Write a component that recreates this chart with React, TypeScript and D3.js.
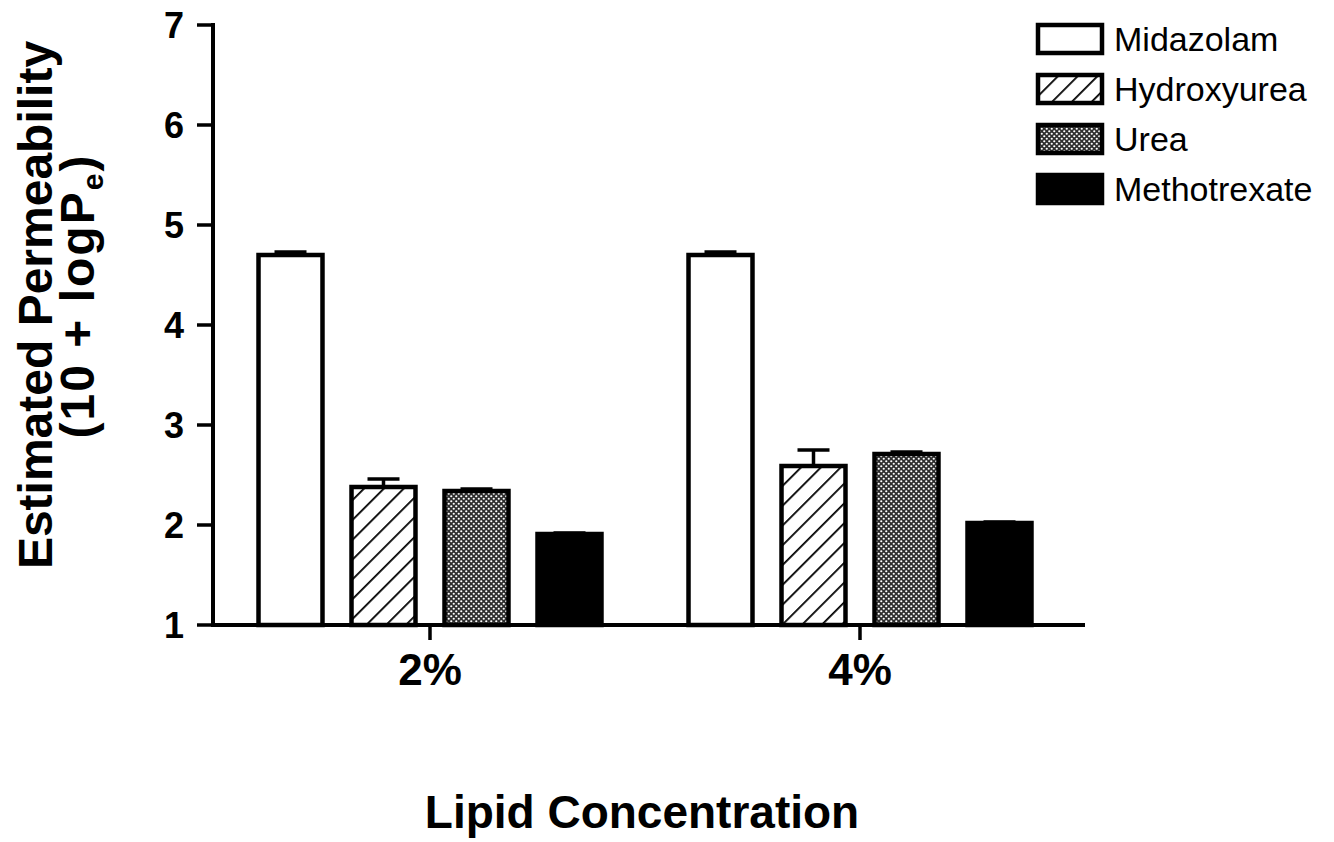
import React from "react";
import * as d3 from "d3";

const groups = ["2%", "4%"];
const series = ["Midazolam", "Hydroxyurea", "Urea", "Methotrexate"];
const values2 = [4.70, 2.38, 2.34, 1.91];
const values4 = [4.70, 2.59, 2.71, 2.02];
const errors2 = [0.03, 0.08, 0.02, 0.01];
const errors4 = [0.03, 0.16, 0.02, 0.01];
const yTicks = [1, 2, 3, 4, 5, 6, 7];

const W = 1334;
const H = 842;
const FONT = "'Liberation Sans', Arial, Helvetica, sans-serif";

const fills = ["#ffffff", "url(#hatch)", "url(#dots)", "#000000"];

export default function App() {
  const y = d3.scaleLinear().domain([1, 7]).range([625, 25]);
  const x = d3.scaleBand().domain(groups).range([215, 1075]);
  const inner = d3
    .scaleBand()
    .domain(series)
    .range([-186, 186])
    .paddingInner(0.312)
    .paddingOuter(0.156);

  const data = groups.map((g, gi) => ({
    g,
    vals: gi === 0 ? values2 : values4,
    errs: gi === 0 ? errors2 : errors4,
  }));

  const axisX0 = 213;
  const axisX1 = 1085;
  const y0 = y(1);

  return (
    <div style={{ position: "absolute", left: 0, top: 0 }}>
      <svg width={W} height={H} style={{ display: "block", background: "#fff" }}>
        <defs>
          <pattern id="hatch" patternUnits="userSpaceOnUse" width="14" height="14" patternTransform="rotate(45)">
            <rect width="14" height="14" fill="#fff" />
            <line x1="0" y1="0" x2="0" y2="14" stroke="#000" strokeWidth="3.6" />
          </pattern>
          <pattern id="dots" patternUnits="userSpaceOnUse" width="5" height="5">
            <rect width="5" height="5" fill="#2e2e2e" />
            <circle cx="1.25" cy="1.25" r="1.1" fill="#fff" />
            <circle cx="3.75" cy="3.75" r="1.1" fill="#fff" />
          </pattern>
        </defs>

        {/* bars */}
        {data.map((d) => {
          const cx = (x(d.g) as number) + x.bandwidth() / 2;
          return (
            <g key={d.g}>
              {series.map((s, i) => {
                const bx = cx + (inner(s) as number);
                const bw = inner.bandwidth();
                const top = y(d.vals[i]);
                const errTop = y(d.vals[i] + d.errs[i]);
                const mid = bx + bw / 2;
                return (
                  <g key={s}>
                    <line x1={mid} x2={mid} y1={top} y2={errTop} stroke="#000" strokeWidth={3.5} />
                    <line x1={mid - 16} x2={mid + 16} y1={errTop} y2={errTop} stroke="#000" strokeWidth={3.5} />
                    <rect
                      x={bx}
                      y={top}
                      width={bw}
                      height={y0 - top}
                      fill={fills[i]}
                      stroke="#000"
                      strokeWidth={4.5}
                    />
                  </g>
                );
              })}
            </g>
          );
        })}

        {/* y axis */}
        <line x1={axisX0} x2={axisX0} y1={y(7) - 2} y2={y0 + 2} stroke="#000" strokeWidth={4} />
        {yTicks.map((t) => (
          <g key={t}>
            <line x1={axisX0 - 16} x2={axisX0} y1={y(t)} y2={y(t)} stroke="#000" strokeWidth={3.5} />
            <text
              x={184}
              y={y(t)}
              textAnchor="end"
              dominantBaseline="central"
              fontFamily={FONT}
              fontWeight="bold"
              fontSize={36}
              fill="#000"
            >
              {t}
            </text>
          </g>
        ))}

        {/* x axis */}
        <line x1={axisX0 - 2} x2={axisX1} y1={y0} y2={y0} stroke="#000" strokeWidth={4} />
        {groups.map((g) => {
          const cx = (x(g) as number) + x.bandwidth() / 2;
          return (
            <g key={g}>
              <line x1={cx} x2={cx} y1={y0} y2={y0 + 15} stroke="#000" strokeWidth={3.5} />
              <text
                x={cx}
                y={685}
                textAnchor="middle"
                fontFamily={FONT}
                fontWeight="bold"
                fontSize={44}
                fill="#000"
              >
                {g}
              </text>
            </g>
          );
        })}

        {/* axis titles */}
        <text
          x={642}
          y={828}
          textAnchor="middle"
          fontFamily={FONT}
          fontWeight="bold"
          fontSize={46}
          fill="#000"
        >
          Lipid Concentration
        </text>
        <text
          transform={`translate(52, 305) rotate(-90)`}
          textAnchor="middle"
          fontFamily={FONT}
          fontWeight="bold"
          fontSize={48}
          fill="#000"
        >
          Estimated Permeability
        </text>
        <text
          transform={`translate(94, 296) rotate(-90)`}
          textAnchor="middle"
          fontFamily={FONT}
          fontWeight="bold"
          fontSize={48}
          letterSpacing={2}
          fill="#000"
        >
          (10 + logP
          <tspan fontSize={30} dy={9}>e</tspan>
          <tspan dy={-9}>)</tspan>
        </text>

        {/* legend */}
        {series.map((s, i) => (
          <g key={s} transform={`translate(1038, ${25 + i * 50})`}>
            <rect x={0} y={0} width={64} height={28} fill={fills[i]} stroke="#000" strokeWidth={4.5} />
            <text
              x={76}
              y={14}
              dominantBaseline="central"
              fontFamily={FONT}
              fontSize={34}
              fill="#000"
            >
              {s}
            </text>
          </g>
        ))}
      </svg>
    </div>
  );
}
